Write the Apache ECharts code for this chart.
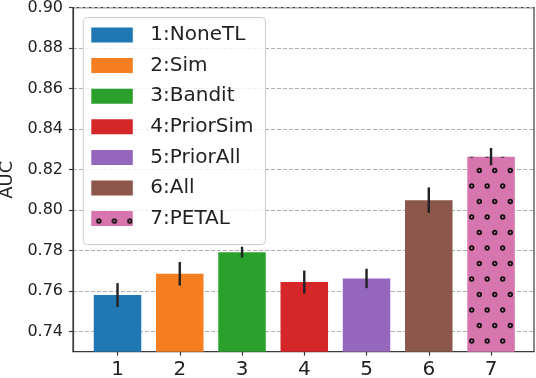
<!DOCTYPE html>
<html>
<head>
<meta charset="utf-8">
<script src="https://cdn.jsdelivr.net/npm/echarts@6/dist/echarts.min.js"></script>
<style>
  html, body { margin: 0; padding: 0; background: #fff; }
  #chart { width: 536px; height: 378px; }
</style>
</head>
<body>
<div id="chart"></div>
<script>
// ---- data ----
const methods = ['1:NoneTL', '2:Sim', '3:Bandit', '4:PriorSim', '5:PriorAll', '6:All', '7:PETAL']
const positions = [1, 2, 3, 4, 5, 6, 7]
const aucMean = [0.7580, 0.7685, 0.7792, 0.7644, 0.7662, 0.8049, 0.8264]
const aucErr = [0.0059, 0.0058, 0.0027, 0.0057, 0.0048, 0.0063, 0.0043]
const yTicks = [0.74, 0.76, 0.78, 0.80, 0.82, 0.84, 0.86, 0.88, 0.90]
const xTicks = [1, 2, 3, 4, 5, 6, 7]

const colors = ['#1f77b4', '#f57f20', '#2ca02c', '#d62728', '#9467bd', '#8c564b', '#d775ae']
const FONT = 'DejaVu Sans'
const TEXT = '#222'

// dotted hatch (small rings), tile 31x31 with dots at the given spots
function dotPattern (bg, pts) {
  const c = document.createElement('canvas')
  c.width = 31
  c.height = 31
  const g = c.getContext('2d')
  g.fillStyle = bg
  g.fillRect(0, 0, 31, 31)
  g.strokeStyle = '#111'
  g.lineWidth = 1.8
  pts.forEach(([px, py]) => {
    for (const dx of [-31, 0, 31]) {
      for (const dy of [-31, 0, 31]) {
        g.beginPath()
        g.arc(px + dx, py + dy, 1.8, 0, Math.PI * 2)
        g.fillStyle = bg
        g.fill()
        g.stroke()
      }
    }
  })
  return { image: c, repeat: 'repeat' }
}

const barHatch = dotPattern(colors[6], [[14.3, 15.5], [29.8, 15.5], [6.7, 0], [22.2, 0]])
const legendHatch = dotPattern(colors[6], [[7.6, 10], [23.1, 10]])

const barSeries = methods.map((name, i) => ({
  name,
  type: 'bar',
  data: [[positions[i], aucMean[i]]],
  barWidth: 47.5,
  barGap: '-100%',
  itemStyle: {
    color: i === 6 ? barHatch : colors[i]
  },
  z: 2
}))

const errSeries = {
  name: 'err',
  type: 'custom',
  data: positions.map((x, i) => [x, aucMean[i] - aucErr[i], aucMean[i] + aucErr[i]]),
  encode: { x: 0, y: [1, 2] },
  renderItem: (params, api) => {
    const a = api.coord([api.value(0), api.value(1)])
    const b = api.coord([api.value(0), api.value(2)])
    return {
      type: 'line',
      shape: { x1: a[0], y1: a[1], x2: b[0], y2: b[1] },
      style: { stroke: '#222', lineWidth: 2.4 }
    }
  },
  z: 5
}

const chart = echarts.init(document.getElementById('chart'), null, { renderer: 'canvas' })

const option = {
  animation: false,
  backgroundColor: '#fff',
  textStyle: { fontFamily: FONT },
  grid: {
    left: 73,
    right: 2,
    top: 7.7,
    bottom: 26.3,
    show: true,
    borderColor: '#3a3a3a',
    borderWidth: 1.2,
    outerBoundsMode: 'none'
  },
  xAxis: {
    type: 'value',
    min: 0.285,
    max: 7.69,
    axisLine: { show: true, lineStyle: { color: '#3a3a3a', width: 1.2 } },
    axisTick: { show: true, length: 4, customValues: xTicks, lineStyle: { color: '#3a3a3a', width: 1.2 } },
    axisLabel: { customValues: xTicks, fontSize: 20, color: TEXT, fontFamily: FONT, margin: 8 },
    splitLine: { show: false }
  },
  yAxis: {
    type: 'value',
    min: 0.73,
    max: 0.90,
    name: 'AUC',
    nameLocation: 'middle',
    nameRotate: 90,
    nameGap: 56,
    nameTextStyle: { fontSize: 18, color: TEXT, fontFamily: FONT },
    axisLine: { show: true, lineStyle: { color: '#3a3a3a', width: 1.2 } },
    axisTick: { show: true, length: 4, customValues: yTicks, lineStyle: { color: '#3a3a3a', width: 1.2 } },
    axisLabel: {
      customValues: yTicks,
      formatter: v => v.toFixed(2),
      fontSize: 16,
      color: TEXT,
      fontFamily: FONT,
      margin: 10
    },
    splitLine: { show: true, lineStyle: { color: '#b0b0b0', width: 1, type: [4, 2] } }
  },
  legend: {
    data: methods.map((name, i) => (i === 6 ? { name, itemStyle: { color: legendHatch } } : name)),
    orient: 'vertical',
    left: 83.3,
    top: 17.5,
    icon: 'rect',
    itemWidth: 41.5,
    itemHeight: 15,
    itemGap: 10.6,
    padding: [7.5, 12, 16, 8],
    backgroundColor: 'rgba(255,255,255,0.8)',
    borderColor: '#cccccc',
    borderWidth: 1,
    borderRadius: 4,
    textStyle: {
      fontSize: 20,
      lineHeight: 20,
      color: TEXT,
      fontFamily: FONT,
      padding: [0, 0, 0, 12.5]
    }
  },
  series: [...barSeries, errSeries]
}

chart.setOption(option)
</script>
</body>
</html>
